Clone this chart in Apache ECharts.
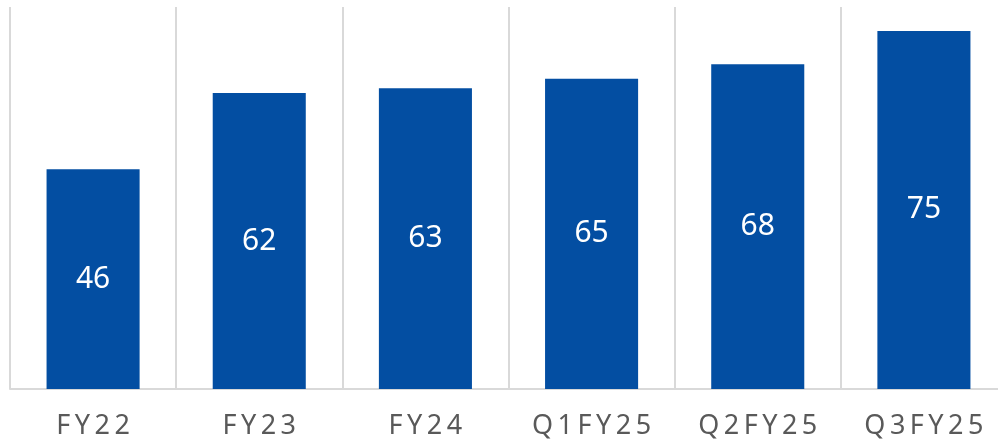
<!DOCTYPE html>
<html>
<head>
<meta charset="utf-8">
<script src="https://cdn.jsdelivr.net/npm/echarts@6/dist/echarts.min.js"></script>
<style>
  html, body { margin: 0; padding: 0; background: #fff; overflow: hidden; }
  #chart { width: 1012px; height: 445px; }
</style>
</head>
<body>
<div id="chart"></div>
<script>
const categories = ['FY22', 'FY23', 'FY24', 'Q1FY25', 'Q2FY25', 'Q3FY25']
const values = [46, 62, 63, 65, 68, 75]

const chart = echarts.init(document.getElementById('chart'))
// spread the letters a bit, like the original axis labels
const spaced = s => s.split('').join('\u2009')

chart.setOption({
  animation: false,
  grid: {
    left: 10,
    top: 7,
    bottom: 56,
    right: 5
  },
  xAxis: {
    type: 'category',
    data: categories,
    axisTick: { show: false },
    axisLine: {
      lineStyle: { color: '#d9d9d9', width: 2 }
    },
    splitLine: {
      show: true,
      lineStyle: { color: '#d9d9d9', width: 2 }
    },
    axisLabel: {
      margin: 24,
      fontSize: 27,
      fontFamily: 'Noto Sans',
      color: '#595959',
      formatter: spaced
    }
  },
  yAxis: {
    type: 'value',
    min: 0,
    max: 80,
    show: false,
    splitLine: { show: false }
  },
  series: [
    {
      type: 'bar',
      data: values,
      barWidth: '56%',
      itemStyle: { color: '#034ea2' },
      label: {
        show: true,
        position: 'inside',
        fontSize: 30,
        fontFamily: 'Noto Sans',
        color: '#ffffff'
      }
    }
  ]
})
</script>
</body>
</html>
